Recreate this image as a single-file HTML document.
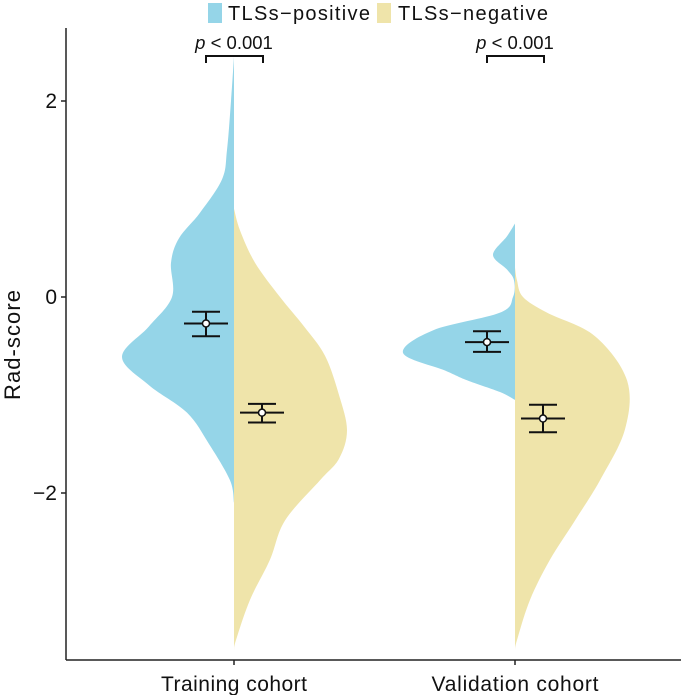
<!DOCTYPE html>
<html><head><meta charset="utf-8"><style>
body{margin:0;background:#fff}
svg text{font-family:"Liberation Sans",Arial,sans-serif;fill:#111}
</style></head><body>
<svg id="chart" width="685" height="695" viewBox="0 0 685 695">
<g id="marks"></g>
<line x1="66" y1="28" x2="66" y2="660" stroke="#222" stroke-width="1.5"/>
<line x1="66" y1="660" x2="681" y2="660" stroke="#222" stroke-width="1.5"/>
<g id="yticks"></g>
<text x="20" y="345" font-size="22" text-anchor="middle" textLength="110" transform="rotate(-90 20 345)">Rad-score</text>
<rect x="208" y="3" width="14" height="20" fill="#95d5e8"/>
<text x="228" y="20" font-size="20" textLength="142">TLSs−positive</text>
<rect x="377" y="3" width="14" height="20" fill="#efe4aa"/>
<text x="398" y="20" font-size="20" textLength="150">TLSs−negative</text>
</svg>
<script>
const categories=["Training cohort","Validation cohort"];
const yTicks=[-2,0,2];
// density profiles: [value, half-width]
const trainPos=[[2.45,0],[2.0,3],[1.5,7],[1.2,12],[0.86,34],[0.6,55],[0.35,63],[0,62],[-0.3,85],[-0.61,112],[-0.9,85],[-1.18,47],[-1.5,25],[-1.87,4],[-2.1,0]];
const trainNeg=[[0.9,0],[0.68,6],[0.35,21],[0,46],[-0.3,70],[-0.6,91],[-1.0,105],[-1.36,113],[-1.65,105],[-1.87,86],[-2.28,51],[-2.68,36],[-3.09,16],[-3.5,2],[-3.6,0]];
const valPos=[[0.75,0],[0.62,8],[0.43,22],[0.28,8],[0.17,1],[0,2],[-0.16,15],[-0.34,82],[-0.57,112],[-0.75,70],[-0.85,48],[-0.97,15],[-1.05,0]];
const valNeg=[[0.3,0],[0.17,2],[0,8],[-0.16,32],[-0.4,80],[-0.85,112],[-1.35,110],[-1.87,85],[-2.28,60],[-2.68,35],[-3.09,15],[-3.5,2],[-3.6,0]];
const means=[[-0.27,-1.18],[-0.46,-1.24]];
const ciLow=[[-0.40,-1.28],[-0.56,-1.38]];
const ciHigh=[[-0.15,-1.09],[-0.35,-1.10]];
const NS="http://www.w3.org/2000/svg";
const y=v=>297-98*v;
const xc=i=>234+281*i;
const marks=document.getElementById('marks');
function mk(t,a,p){const e=document.createElementNS(NS,t);for(const k in a)e.setAttribute(k,a[k]);(p||marks).appendChild(e);return e;}
function spline(pts){let d="M"+pts[0][0]+","+pts[0][1];for(let i=0;i<pts.length-1;i++){const p0=pts[Math.max(i-1,0)],p1=pts[i],p2=pts[i+1],p3=pts[Math.min(i+2,pts.length-1)];const c1=[p1[0]+(p2[0]-p0[0])/6,p1[1]+(p2[1]-p0[1])/6],c2=[p2[0]-(p3[0]-p1[0])/6,p2[1]-(p3[1]-p1[1])/6];d+=`C${c1[0]},${c1[1]} ${c2[0]},${c2[1]} ${p2[0]},${p2[1]}`;}return d;}
function violin(prof,i,side,color,name){const cx=xc(i);const pts=prof.map(p=>[cx+side*p[1],y(p[0])]);let d=spline(pts);d+=`L${cx},${y(prof[prof.length-1][0])}L${cx},${y(prof[0][0])}Z`;const e=mk('path',{d:d,fill:color});

}
violin(trainPos,0,-1,'#95d5e8','violin-training-positive');
violin(trainNeg,0,1,'#efe4aa','violin-training-negative');
violin(valPos,1,-1,'#95d5e8','violin-validation-positive');
violin(valNeg,1,1,'#efe4aa','violin-validation-negative');
const xw=[146,167];
categories.forEach((c,i)=>{
 [-28,28].forEach((off,j)=>{const x=xc(i)+off;const g=mk('g',{stroke:'#111','stroke-width':2,fill:'none'});
 
 
 mk('line',{x1:x,x2:x,y1:y(ciLow[i][j]),y2:y(ciHigh[i][j])},g);
 mk('line',{x1:x-14,x2:x+14,y1:y(ciLow[i][j]),y2:y(ciLow[i][j])},g);
 mk('line',{x1:x-14,x2:x+14,y1:y(ciHigh[i][j]),y2:y(ciHigh[i][j])},g);
 mk('line',{x1:x-22,x2:x+22,y1:y(means[i][j]),y2:y(means[i][j])},g);
 mk('circle',{cx:x,cy:y(means[i][j]),r:3.5,fill:'#fff','stroke-width':1.5},g);});
 const b=mk('path',{d:`M${xc(i)-28},63V56H${xc(i)+29}V63`,stroke:'#111','stroke-width':2,fill:'none'});
 
 
 const t=mk('text',{x:xc(i),y:49,'font-size':18.5,'text-anchor':'middle'});t.innerHTML='<tspan font-style="italic">p</tspan> &lt; 0.001';
 
 
 const tl=mk('line',{x1:xc(i),x2:xc(i),y1:660,y2:665,stroke:'#222','stroke-width':1.5});
 
 
 const xl=mk('text',{x:xc(i),y:691,'font-size':21,'text-anchor':'middle',textLength:xw[i]});xl.textContent=c;
 
 
});
const yt=document.getElementById('yticks');
yTicks.forEach(v=>{const l=mk('line',{x1:61,x2:66,y1:y(v),y2:y(v),stroke:'#222','stroke-width':1.5},yt);
 
 
 const t=mk('text',{x:57,y:y(v)+7,'font-size':21,'text-anchor':'end'},yt);t.textContent=v<0?'−'+Math.abs(v):String(v);
 
 });
</script>
</body></html>
